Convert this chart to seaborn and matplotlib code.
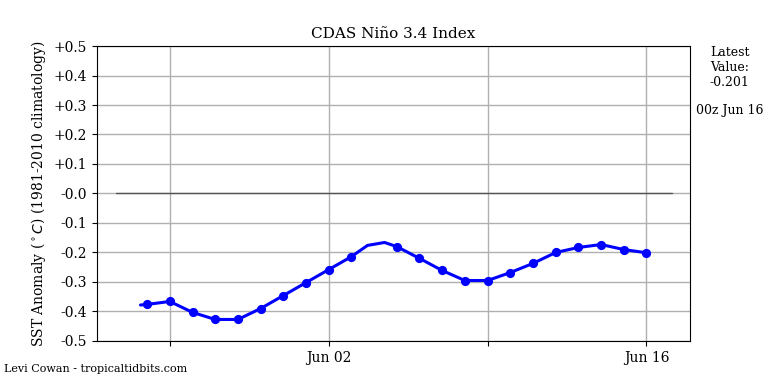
import matplotlib
matplotlib.use("Agg")
import matplotlib.pyplot as plt
import numpy as np
import pandas as pd
import seaborn as sns

# daily index values (markers), Jun 04 missing
marker_dates = pd.to_datetime([
    "2018-05-25", "2018-05-26", "2018-05-27", "2018-05-28", "2018-05-29",
    "2018-05-30", "2018-05-31", "2018-06-01", "2018-06-02", "2018-06-03",
    "2018-06-05", "2018-06-06", "2018-06-07", "2018-06-08", "2018-06-09",
    "2018-06-10", "2018-06-11", "2018-06-12", "2018-06-13", "2018-06-14",
    "2018-06-15", "2018-06-16"])
marker_vals = [-0.376, -0.366, -0.403, -0.427, -0.427, -0.390, -0.346, -0.302,
               -0.258, -0.214, -0.180, -0.220, -0.261, -0.295, -0.295, -0.268,
               -0.237, -0.200, -0.183, -0.173, -0.190, -0.201]

# line series (has a couple of extra samples)
line_dates = pd.to_datetime([
    "2018-05-24 17:00", "2018-05-25 00:00", "2018-05-26 00:00", "2018-05-27 00:00",
    "2018-05-28 00:00", "2018-05-29 00:00", "2018-05-30 00:00", "2018-05-31 00:00",
    "2018-06-01 00:00", "2018-06-02 00:00", "2018-06-03 00:00", "2018-06-03 17:00",
    "2018-06-04 11:00", "2018-06-05 00:00", "2018-06-06 00:00", "2018-06-07 00:00",
    "2018-06-08 00:00", "2018-06-09 00:00", "2018-06-10 00:00", "2018-06-11 00:00",
    "2018-06-12 00:00", "2018-06-13 00:00", "2018-06-14 00:00", "2018-06-15 00:00",
    "2018-06-16 00:00"], format="%Y-%m-%d %H:%M")
line_vals = [-0.378, -0.376, -0.366, -0.403, -0.427, -0.427, -0.390, -0.346,
             -0.302, -0.258, -0.214, -0.176, -0.166, -0.180, -0.220, -0.261,
             -0.295, -0.295, -0.268, -0.237, -0.200, -0.183, -0.173, -0.190,
             -0.201]

ytick_vals = [0.5, 0.4, 0.3, 0.2, 0.1, 0.0, -0.1, -0.2, -0.3, -0.4, -0.5]
ytick_labels = ["+0.5", "+0.4", "+0.3", "+0.2", "+0.1", "-0.0",
                "-0.1", "-0.2", "-0.3", "-0.4", "-0.5"]
xtick_dates = pd.to_datetime(["2018-05-26", "2018-06-02", "2018-06-09", "2018-06-16"])
xtick_labels = ["", "Jun 02", "", "Jun 16"]

sns.set_style("ticks")
plt.rcParams["font.family"] = ["DejaVu Serif"]
plt.rcParams["text.color"] = "black"
plt.rcParams["axes.labelcolor"] = "black"
plt.rcParams["xtick.color"] = "black"
plt.rcParams["ytick.color"] = "black"

fig = plt.figure(figsize=(7.68, 3.84), dpi=100)
ax = fig.add_axes([0.1263, 0.112, 0.7721, 0.7682])

ax.axhline(0, xmin=0.032, xmax=0.97, color="#555555", lw=1, zorder=2)
sns.lineplot(x=line_dates, y=line_vals, ax=ax, color="blue", lw=2.2, zorder=3)
sns.scatterplot(x=marker_dates, y=marker_vals, ax=ax, color="blue", s=44,
                edgecolor="blue", linewidth=0, zorder=4)

ax.set_ylim(-0.5, 0.5)
ax.set_xlim(pd.Timestamp("2018-05-22 19:00"), pd.Timestamp("2018-06-17 22:00"))
ax.set_yticks(ytick_vals)
ax.set_yticklabels(ytick_labels, fontsize=10)
ax.set_xticks(xtick_dates)
ax.set_xticklabels(xtick_labels, fontsize=10)
ax.grid(True, color="#b0b0b0", lw=1)
ax.set_axisbelow(True)
for sp in ax.spines.values():
    sp.set_visible(True)
    sp.set_color("black")
    sp.set_linewidth(0.8)

ax.set_title("CDAS Niño 3.4 Index", fontsize=11)
ax.set_ylabel("SST Anomaly ($^\\circ C$) (1981-2010 climatology)", fontsize=10)
ax.set_xlabel("")

fig.text(0.950, 0.88, "Latest\nValue:\n-0.201", ha="center", va="top", fontsize=9)
fig.text(0.950, 0.711, "00z Jun 16", ha="center", va="center", fontsize=9)
fig.text(0.005, 0.038, "Levi Cowan - tropicaltidbits.com", ha="left", va="center", fontsize=8)

fig.savefig("out.png", dpi=100)
